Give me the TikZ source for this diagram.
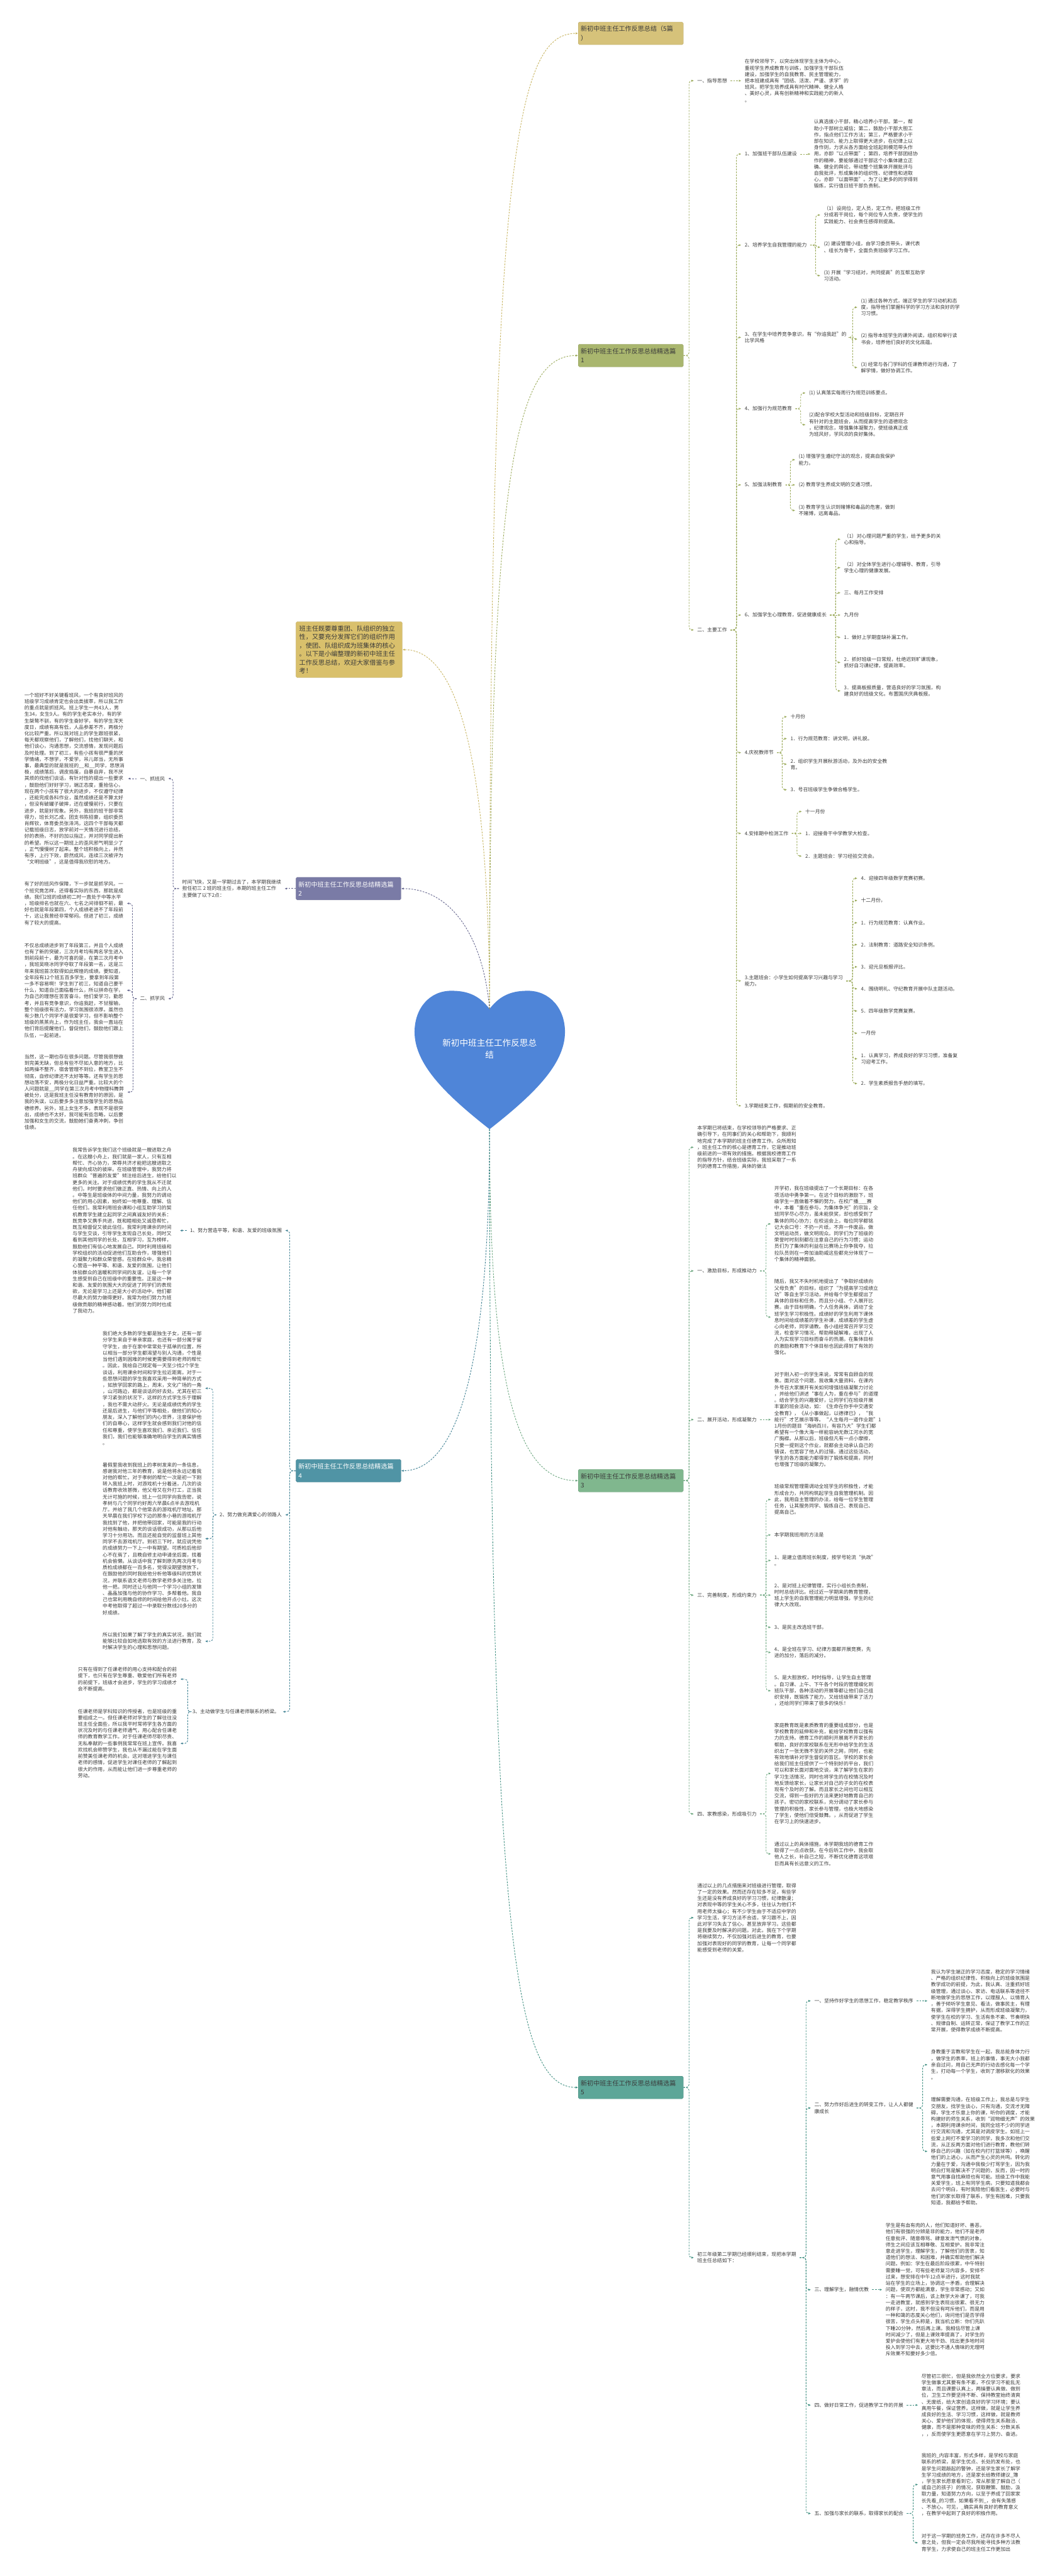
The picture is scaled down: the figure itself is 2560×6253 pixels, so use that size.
\documentclass[tikz,border=0pt]{standalone}
\usepackage{fontspec}
\setmainfont{Noto Sans CJK SC}
\usetikzlibrary{arrows.meta,positioning,calc}

\definecolor{ink}{HTML}{3A3A3A}
\definecolor{boxT}{HTML}{D6C27A}
\definecolor{boxN}{HTML}{D9C06C}
\definecolor{boxA}{HTML}{A9B66E}
\definecolor{boxC}{HTML}{80B78E}
\definecolor{boxE}{HTML}{5DA698}
\definecolor{boxB}{HTML}{7A7BA6}
\definecolor{boxD}{HTML}{5094A5}
\definecolor{heartblue}{HTML}{4F85D8}
\definecolor{lnT}{HTML}{C8B560}
\definecolor{lnA}{HTML}{9CAB5C}
\definecolor{lnC}{HTML}{6BA67E}
\definecolor{lnE}{HTML}{3F8F81}
\definecolor{lnB}{HTML}{66678F}
\definecolor{lnD}{HTML}{3F8193}

\tikzset{
  txt/.style={inner xsep=8pt,inner ysep=1pt,align=left,text=ink,font=\fontsize{12}{15.6}\selectfont},
  topic/.style={rounded corners=3pt,draw=#1!85!black,fill=#1,text width=243pt,inner xsep=6pt,inner ysep=6pt,
    align=left,minimum height=55pt,text=ink,font=\fontsize{15.4}{22}\selectfont},
  link/.style={draw=#1,line width=1.4pt,dash pattern=on 4pt off 3pt,-{Latex[length=6pt,width=5pt]},rounded corners=7pt},
  fork/.style={to path={-| ([xshift=#1]\tikztotarget) -- (\tikztotarget)}},
  fork/.default=-12pt
}

\begin{document}
\begin{tikzpicture}[x=1pt,y=-1pt]
  \useasboundingbox[fill=white] (0,0) rectangle (2560,6253);

  % centre heart
  \coordinate (notch) at (1188,2449);
  \coordinate (tip) at (1188,2741);
  \fill[heartblue] (notch) .. controls (1160,2412) and (1128,2405) .. (1095,2405)
    .. controls (1042,2405) and (1006,2448) .. (1006,2505)
    .. controls (1006,2585) and (1085,2660) .. (tip)
    .. controls (1291,2660) and (1371,2585) .. (1371,2505)
    .. controls (1371,2448) and (1334,2405) .. (1281,2405)
    .. controls (1248,2405) and (1216,2412) .. (notch) -- cycle;
  \node[align=center,text=white,font=\fontsize{20.8}{28}\selectfont] (hub) at (1188,2546) {新初中班主任工作反思总\\结};

  % main topics
  \node[topic=boxT,anchor=west] (t) at (1403,81) {新初中班主任工作反思总结（5篇\\）};
  \node[topic=boxA,anchor=west] (a) at (1403,863) {新初中班主任工作反思总结精选篇\\1};
  \node[topic=boxC,anchor=west] (c) at (1403,3594) {新初中班主任工作反思总结精选篇\\3};
  \node[topic=boxE,anchor=west] (e) at (1403,5067) {新初中班主任工作反思总结精选篇\\5};
  \node[topic=boxN,anchor=west,text width=242pt,inner xsep=8pt,inner ysep=9pt,font=\fontsize{15.5}{20.7}\selectfont] (note) at (718,1577)
    {班主任既要尊重团、队组织的独立\\性，又要充分发挥它们的组织作用\\，使团、队组织成为班集体的核心\\。以下是小编整理的新初中班主任\\工作反思总结，欢迎大家借鉴与参\\考！};
  \node[topic=boxB,anchor=west,text=white] (b) at (718,2157) {新初中班主任工作反思总结精选篇\\2};
  \node[topic=boxD,anchor=west,text=white] (d) at (718,3570) {新初中班主任工作反思总结精选篇\\4};

  \draw[link=lnT] (notch) .. controls (1188,400) and (1250,81) .. (t.west);
  \draw[link=lnA] (notch) .. controls (1188,1150) and (1250,863) .. (a.west);
  \draw[link=lnT] (notch) .. controls (1186,1800) and (1100,1577) .. (note.east);
  \draw[link=lnB] (notch) .. controls (1170,2250) and (1080,2157) .. (b.east);
  \draw[link=lnC] (tip) .. controls (1188,3350) and (1250,3594) .. (c.west);
  \draw[link=lnE] (tip) .. controls (1188,4700) and (1250,5067) .. (e.west);
  \draw[link=lnD] (tip) .. controls (1188,3350) and (1100,3570) .. (d.east);

  % ---- 篇1 ----
  \node[txt,anchor=west] (a1) at (1684,196) {一、指导思想};
  \node[txt,anchor=west] (a1p) at (1799,196) {在学校领导下，以突出体现学生主体为中心，\\重视学生养成教育与训练，加强学生干部队伍\\建设，加强学生的自我教育、民主管理能力，\\把本班建成具有“团结、活泼、严谨、求学”的\\班风，把学生培养成具有时代精神、健全人格\\、美好心灵，具有创新精神和实践能力的新人\\。};
  \node[txt,anchor=west] (a2) at (1684,1529) {二、主要工作};
  \node[txt,anchor=west] (a21) at (1799,374) {1、加强班干部队伍建设};
  \node[txt,anchor=west] (a21p) at (1967,374) {认真选拔小干部，精心培养小干部。第一，帮\\助小干部树立威信；第二，鼓励小干部大胆工\\作，指点他们工作方法；第三，严格要求小干\\部在知识、能力上取得更大进步，在纪律上以\\身作则，力求从各方面给全班起到模范带头作\\用，亦即“以点带面”；第四，培养干部团结协\\作的精神，要能够通过干部这个小集体建立正\\确、健全的舆论，带动整个班集体开展批评与\\自我批评，形成集体的组织性、纪律性和进取\\心，亦即“以面带面”。为了让更多的同学得到\\锻炼，实行值日班干部负责制。};
  \node[txt,anchor=west] (a22) at (1799,595) {2、培养学生自我管理的能力};
  \node[txt,anchor=west] (a221) at (1991,522) {（1）设岗位，定人员，定工作，把班级工作\\分成若干岗位，每个岗位专人负责，使学生的\\实践能力、社会责任感得到提高。};
  \node[txt,anchor=west] (a222) at (1991,600) {(2) 建设管理小组，由学习委员带头，课代表\\、组长为骨干，全面负责班级学习工作。};
  \node[txt,anchor=west] (a223) at (1991,669) {(3) 开展“学习结对，共同提高”的互帮互助学\\习活动。};
  \node[txt,anchor=west] (a23) at (1799,819) {3、在学生中培养竞争意识，有“你追我赶”的\\比学风格};
  \node[txt,anchor=west] (a231) at (2081,746) {(1) 通过各种方式，端正学生的学习动机和态\\度，指导他们掌握科学的学习方法和良好的学\\习习惯。};
  \node[txt,anchor=west] (a232) at (2081,823) {(2) 指导本班学生的课外阅读，组织和举行读\\书会，培养他们良好的文化底蕴。};
  \node[txt,anchor=west] (a233) at (2081,892) {(3) 经常与各门学科的任课教师进行沟通，了\\解学情，做好协调工作。};
  \node[txt,anchor=west] (a24) at (1799,992) {4、加强行为规范教育};
  \node[txt,anchor=west] (a241) at (1955,954) {(1) 认真落实每周行为规范训练要点。};
  \node[txt,anchor=west] (a242) at (1955,1031) {(2)配合学校大型活动和班级目标，定期召开\\有针对的主题班会，从而提高学生的道德观念\\，纪律观念，增强集体凝聚力，使班级真正成\\为班风好，学风浓的良好集体。};
  \node[txt,anchor=west] (a25) at (1799,1177) {5、加强法制教育};
  \node[txt,anchor=west] (a251) at (1930,1116) {(1) 增强学生遵纪守法的观念，提高自我保护\\能力。};
  \node[txt,anchor=west] (a252) at (1930,1177) {(2) 教育学生养成文明的交通习惯。};
  \node[txt,anchor=west] (a253) at (1930,1239) {(3) 教育学生认识到赌博和毒品的危害，做到\\不赌博，远离毒品。};
  \node[txt,anchor=west] (a26) at (1799,1493) {6、加强学生心理教育，促进健康成长};
  \node[txt,anchor=west] (a261) at (2040,1309) {（1）对心理问题严重的学生，给予更多的关\\心和指导。};
  \node[txt,anchor=west] (a262) at (2040,1378) {（2）对全体学生进行心理辅导、教育，引导\\学生心理的健康发展。};
  \node[txt,anchor=west] (a263) at (2040,1439) {三、每月工作安排};
  \node[txt,anchor=west] (a264) at (2040,1493) {九月份};
  \node[txt,anchor=west] (a265) at (2040,1547) {1．做好上学期查缺补漏工作。};
  \node[txt,anchor=west] (a266) at (2040,1608) {2．抓好班级一日常规，杜绝迟到旷课现象，\\抓好自习课纪律，提高效率。};
  \node[txt,anchor=west] (a267) at (2040,1677) {3．提高板报质量，营造良好的学习氛围，构\\建良好的班级文化。布置国庆庆典板报。};
  \node[txt,anchor=west] (a27) at (1799,1827) {4.庆祝教师节};
  \node[txt,anchor=west] (a271) at (1910,1740) {十月份};
  \node[txt,anchor=west] (a272) at (1910,1793) {1．行为规范教育：讲文明，讲礼貌。};
  \node[txt,anchor=west] (a273) at (1910,1855) {2．组织学生开展秋游活动，及外出的安全教\\育。};
  \node[txt,anchor=west] (a274) at (1910,1917) {3．号召班级学生争做合格学生。};
  \node[txt,anchor=west] (a28) at (1799,2023) {4.安排期中检测工作};
  \node[txt,anchor=west] (a281) at (1946,1970) {十一月份};
  \node[txt,anchor=west] (a282) at (1946,2023) {1．迎接骨干中学教学大检查。};
  \node[txt,anchor=west] (a283) at (1946,2078) {2．主题班会：学习经验交流会。};
  \node[txt,anchor=west] (a29) at (1799,2381) {3.主题班会：小学生如何提高学习兴趣与学习\\能力。};
  \node[txt,anchor=west] (a291) at (2081,2132) {4．迎接四年级数学竞赛初赛。};
  \node[txt,anchor=west] (a292) at (2081,2186) {十二月份，};
  \node[txt,anchor=west] (a293) at (2081,2240) {1．行为规范教育：认真作业。};
  \node[txt,anchor=west] (a294) at (2081,2293) {2．法制教育：道路安全知识条例。};
  \node[txt,anchor=west] (a295) at (2081,2347) {3．迎元旦板报评比。};
  \node[txt,anchor=west] (a296) at (2081,2400) {4．围绕明礼、守纪教育开展中队主题活动。};
  \node[txt,anchor=west] (a297) at (2081,2454) {5．四年级数学竞赛复赛。};
  \node[txt,anchor=west] (a298) at (2081,2508) {一月份};
  \node[txt,anchor=west] (a299) at (2081,2570) {1．认真学习，养成良好的学习习惯，准备复\\习迎考工作。};
  \node[txt,anchor=west] (a29a) at (2081,2630) {2．学生素质报告手册的填写。};
  \node[txt,anchor=west] (a2a) at (1799,2684) {3.学期结束工作，假期前的安全教育。};

  \draw[link=lnA] (a.east) to[fork] (a1.west);
  \draw[link=lnA] (a.east) to[fork] (a2.west);
  \draw[link=lnA] (a1.east) -- (a1p.west);
  \draw[link=lnA] (a2.east) to[fork] (a21.west);
  \draw[link=lnA] (a2.east) to[fork] (a22.west);
  \draw[link=lnA] (a2.east) to[fork] (a23.west);
  \draw[link=lnA] (a2.east) to[fork] (a24.west);
  \draw[link=lnA] (a2.east) to[fork] (a25.west);
  \draw[link=lnA] (a2.east) to[fork] (a26.west);
  \draw[link=lnA] (a2.east) to[fork] (a27.west);
  \draw[link=lnA] (a2.east) to[fork] (a28.west);
  \draw[link=lnA] (a2.east) to[fork] (a29.west);
  \draw[link=lnA] (a2.east) to[fork] (a2a.west);
  \draw[link=lnA] (a21.east) -- (a21p.west);
  \draw[link=lnA] (a22.east) to[fork] (a221.west);
  \draw[link=lnA] (a22.east) to[fork] (a222.west);
  \draw[link=lnA] (a22.east) to[fork] (a223.west);
  \draw[link=lnA] (a23.east) to[fork] (a231.west);
  \draw[link=lnA] (a23.east) to[fork] (a232.west);
  \draw[link=lnA] (a23.east) to[fork] (a233.west);
  \draw[link=lnA] (a24.east) to[fork] (a241.west);
  \draw[link=lnA] (a24.east) to[fork] (a242.west);
  \draw[link=lnA] (a25.east) to[fork] (a251.west);
  \draw[link=lnA] (a25.east) -- (a252.west);
  \draw[link=lnA] (a25.east) to[fork] (a253.west);
  \draw[link=lnA] (a26.east) to[fork] (a261.west);
  \draw[link=lnA] (a26.east) to[fork] (a262.west);
  \draw[link=lnA] (a26.east) to[fork] (a263.west);
  \draw[link=lnA] (a26.east) -- (a264.west);
  \draw[link=lnA] (a26.east) to[fork] (a265.west);
  \draw[link=lnA] (a26.east) to[fork] (a266.west);
  \draw[link=lnA] (a26.east) to[fork] (a267.west);
  \draw[link=lnA] (a27.east) to[fork] (a271.west);
  \draw[link=lnA] (a27.east) to[fork] (a272.west);
  \draw[link=lnA] (a27.east) to[fork] (a273.west);
  \draw[link=lnA] (a27.east) to[fork] (a274.west);
  \draw[link=lnA] (a28.east) to[fork] (a281.west);
  \draw[link=lnA] (a28.east) -- (a282.west);
  \draw[link=lnA] (a28.east) to[fork] (a283.west);
  \draw[link=lnA] (a29.east) to[fork] (a291.west);
  \draw[link=lnA] (a29.east) to[fork] (a292.west);
  \draw[link=lnA] (a29.east) to[fork] (a293.west);
  \draw[link=lnA] (a29.east) to[fork] (a294.west);
  \draw[link=lnA] (a29.east) to[fork] (a295.west);
  \draw[link=lnA] (a29.east) to[fork] (a296.west);
  \draw[link=lnA] (a29.east) to[fork] (a297.west);
  \draw[link=lnA] (a29.east) to[fork] (a298.west);
  \draw[link=lnA] (a29.east) to[fork] (a299.west);
  \draw[link=lnA] (a29.east) to[fork] (a29a.west);

  % ---- 篇3 ----
  \node[txt,anchor=west] (c1) at (1684,2785) {本学期已将结束，在学校领导的严格要求、正\\确引导下，在同事们的关心和帮助下，我顺利\\地完成了本学期的班主任德育工作。众所周知\\，班主任工作的核心是德育工作，它是推动班\\级前进的一项有效的措施。根据我校德育工作\\的指导方针，结合班级实际，我班采取了一系\\列的德育工作措施，具体的做法};
  \node[txt,anchor=west] (c2) at (1684,3085) {一、激励目标，形成推动力};
  \node[txt,anchor=west] (c21) at (1871,2971) {开学初，我在班级提出了一个长期目标：在各\\项活动中勇争第一。在这个目标的激励下，班\\级学生一直做着不懈的努力。在校广播\_\_\_赛\\中，本着“重在参与，为集体争光”的宗旨，全\\班同学尽心尽力，虽未能获奖，却也感受到了\\集体的同心协力；在校运会上，每位同学都铭\\记大会口号：不扔一片纸，不弃一件废品，做\\文明运动员，做文明观众。同学们为了班级的\\荣誉时时刻刻都在注意自己的行为习惯；运动\\员们为了集体的利益在比赛场上你争我夺，拉\\拉队员则在一旁加油助威这些都充分体现了一\\个集体的精神面貌。};
  \node[txt,anchor=west] (c22) at (1871,3197) {随后，我又不失时机地提出了“争取好成绩向\\父母负责”的目标，组织了“为提高学习成绩立\\功”等自主学习活动，并给每个学生都提出了\\具体的目标和任务，而且分小组、个人展开比\\赛。由于目标明确，个人任务具体，调动了全\\班学生学习积极性。成绩好的学生利用下课休\\息时间给成绩差的学生补课，成绩差的学生虚\\心向老师，同学请教。各小组经常召开学习交\\流，检查学习情况，帮助释疑解难，出现了人\\人为实现学习目标而奋斗的热潮。在集体目标\\的激励和教育下个体目标也因此得到了有效的\\强化。};
  \node[txt,anchor=west] (c3) at (1684,3446) {二、展开活动，形成凝聚力};
  \node[txt,anchor=west] (c31) at (1871,3446) {对于刚入初一的学生来说，常常有自顾自的现\\象。面对这个问题，我收集大量资料，在课内\\外号召大家展开有关如何增强班级凝聚力讨论\\，并给他们讲述“事在人为，重在参与”的道理\\。结合学生的兴趣爱好，让同学们在班级开展\\丰富的班会活动，如：《生命在你手中交通安\\全教育》，《从小事做起，以德律已》，“我\\能行”才艺展示等等。“人生每月一道作业题”1\\1月份的题目“海纳百川，有容乃大”学生们都\\希望有一个像大海一样能容纳无数江河水的宽\\广胸襟。从那以后，班级但凡有一点小摩擦，\\只要一提到这个作业，就都会主动承认自己的\\错误，也宽容了他人的过错。通过这些活动，\\学生的各方面能力都得到了锻炼和提高，同时\\也增强了班级的凝聚力。};
  \node[txt,anchor=west] (c4) at (1684,3872) {三、完善制度，形成约束力};
  \node[txt,anchor=west] (c41) at (1871,3640) {班级常规管理需调动全班学生的积极性，才能\\形成合力，共同构筑起学生自我管理机制。因\\此，我用自主管理的办法，给每一位学生管理\\任务，让其服务同学、锻炼自己、表现自己、\\提高自己。};
  \node[txt,anchor=west] (c42) at (1871,3726) {本学期我班用的方法是};
  \node[txt,anchor=west] (c43) at (1871,3788) {1、是建立值周班长制度，按学号轮流“执政”\\。};
  \node[txt,anchor=west] (c44) at (1871,3872) {2、是对班上纪律管理，实行小组长负责制，\\时时总结评比。经过近一学期来的教育管理，\\班上学生的自我管理能力明显增强，学生的纪\\律大大改观。};
  \node[txt,anchor=west] (c45) at (1871,3950) {3、是民主改选班干部。};
  \node[txt,anchor=west] (c46) at (1871,4011) {4、是全班在学习、纪律方面都开展竞赛，先\\进的加分，落后的减分。};
  \node[txt,anchor=west] (c47) at (1871,4104) {5、是大胆放权，时时指导，让学生自主管理\\。自习课、上午、下午各个时段的管理细化到\\班队干部，各种活动的开展等都让他们自己组\\织安排，既锻炼了能力，又给班级带来了活力\\，还给同学们带来了很多的快乐！};
  \node[txt,anchor=west] (c5) at (1684,4403) {四、家教感染，形成吸引力};
  \node[txt,anchor=west] (c51) at (1871,4305) {家庭教育既是素质教育的重要组成部分，也是\\学校教育的延伸和补充，能给学校教育以强有\\力的支持。德育工作的顺利开展离不开家长的\\帮助，良好的家校联系在无形中给学生的生活\\织出了一张无微不至的关怀之网，同时，也能\\有效地填补对学生督促的盲区。学校的家长会\\给我们班主任提供了一个特别好的平台，我们\\可以和家长面对面地交谈，来了解学生在家的\\学习生活情况，同时也将学生的在校情况及时\\地反馈给家长，让家长对自己的子女的在校表\\现有个及时的了解。而且家长之间也可以相互\\交流，得到一些好的方法来更好地教育自己的\\孩子。密切的家校联系，充分调动了家长参与\\管理的积极性，家长参与管理，也极大地感染\\了学生，使他们倍受鼓舞。，从而促进了学生\\在学习上的快速进步。};
  \node[txt,anchor=west] (c52) at (1871,4500) {通过以上的具体措施，本学期我班的德育工作\\取得了一点点收获。在今后听工作中，我会取\\他人之长，补自己之短，不断优化德育这项艰\\巨而具有长远意义的工作。};

  \draw[link=lnC] (c.east) to[fork] (c1.west);
  \draw[link=lnC] (c.east) to[fork] (c2.west);
  \draw[link=lnC] (c.east) to[fork] (c3.west);
  \draw[link=lnC] (c.east) to[fork] (c4.west);
  \draw[link=lnC] (c.east) to[fork] (c5.west);
  \draw[link=lnC] (c2.east) to[fork] (c21.west);
  \draw[link=lnC] (c2.east) to[fork] (c22.west);
  \draw[link=lnC] (c3.east) -- (c31.west);
  \draw[link=lnC] (c4.east) to[fork] (c41.west);
  \draw[link=lnC] (c4.east) to[fork] (c42.west);
  \draw[link=lnC] (c4.east) to[fork] (c43.west);
  \draw[link=lnC] (c4.east) -- (c44.west);
  \draw[link=lnC] (c4.east) to[fork] (c45.west);
  \draw[link=lnC] (c4.east) to[fork] (c46.west);
  \draw[link=lnC] (c4.east) to[fork] (c47.west);
  \draw[link=lnC] (c5.east) to[fork] (c51.west);
  \draw[link=lnC] (c5.east) to[fork] (c52.west);

  % ---- 篇5 ----
  \node[txt,anchor=west] (e1) at (1684,4655) {通过以上的几点措施来对班级进行管理，取得\\了一定的效果。然而还存在较多不足，有些学\\生还是没有养成良好的学习习惯，纪律散漫；\\对表现中等的学生关心不多，往往认为他们不\\用老师太操心；有不少学生由于不适应中学的\\学习生活，学习方法不合适，学习跟不上，因\\此对学习失去了信心，甚至放弃学习。这些都\\是我要及时解决的问题。对此，我在下个学期\\将继续努力，不仅加强对后进生的教育，也要\\加强对表现好的同学的教育，让每一个同学都\\能感受到老师的关爱。};
  \node[txt,anchor=west] (e2) at (1684,5480) {初三年级第二学期已经顺利结束，现把本学期\\班主任总结如下：};
  \node[txt,anchor=west] (e21) at (1968,4857) {一、坚持作好学生的思想工作，稳定教学秩序};
  \node[txt,anchor=west] (e211) at (2251,4857) {我认为学生端正的学习态度，稳定的学习情绪\\、严格的组织纪律性、积极向上的班级氛围是\\教学成功的前提，为此，我认真、注重抓好班\\级管理，通过谈心、家访、电话联系等途径不\\断地做学生的思想工作，以理服人、以情育人\\，善于倾听学生意见、看法，做事民主，有理\\有据，深得学生拥护，从而形成班级凝聚力，\\使学生在校的学习、生活有条不紊、节奏明快\\、规律自制、运转正常，保证了教学工作的正\\常开展，使得教学成绩不断提高。};
  \node[txt,anchor=west] (e22) at (1968,5117) {二、努力作好后进生的转变工作，让人人都健\\康成长};
  \node[txt,anchor=west] (e221) at (2251,5012) {身教重于言教和学生在一起，我总能身体力行\\，做学生的表率，班上的事情，事无大小我都\\亲自过问，用自己无声的行动去感化每一个学\\生，打动每一个学生，收到了潜移默化的效果\\。};
  \node[txt,anchor=west] (e222) at (2251,5222) {理解需要沟通，在班级工作上，我总是与学生\\交朋友，找学生谈心，只有沟通，交流才无障\\碍，学生才乐意上你的课，听你的调度，才能\\构建好的师生关系，收到“润物细无声”的效果\\，本期利用课余时间，我同全班不少的同学进\\行交流和沟通，尤其是对调皮学生。如班上一\\些爱上网打不爱学习的同学，我多次和他们交\\流，从正反两方面对他们进行教育，教他们转\\移自己的兴趣（如在校内打打篮球等），唤醒\\他们的上进心，从而产生心灵的共鸣。转化的\\力量在于爱，沟通中我极少打骂学生，因为我\\明白打骂是解决不了问题的，反而，因一时的\\意气用事自找麻烦也有可能。班级工作中我能\\关爱学生，班上有同学生病，只要知道我都会\\去问个明白，有时我陪他们看医生，必要时与\\他们的家长取得了联系，学生有困难，只要我\\知道，我都给予帮助。};
  \node[txt,anchor=west] (e23) at (1968,5558) {三、理解学生，融情优教};
  \node[txt,anchor=west] (e231) at (2141,5558) {学生是有血有肉的人，他们知道好坏、善恶，\\他们有很强的分辨是非的能力，他们不是老师\\任意批评、随意辱骂、肆意发泄气愤的对象，\\师生之间应该互相尊敬、互相爱护。我非常注\\意走进学生，理解学生，了解他们的苦衷，知\\道他们的想法、和困难，并确实帮助他们解决\\问题。例如：学生在最后阶段很累，中午特别\\需要睡一觉，可有些老师复习内容多，安排不\\过来，想安排在中午12点半进行，这时我就\\站在学生的立场上，协调这一矛盾，合理解决\\问题，使双方都能满意，学生非常感动；又如\\：有一午两节课后，该上数学大补课了，可我\\一走进教室，就感到学生表现出很累、很无力\\的样子，这时，我不但没有呵斥他们，而是用\\一种和蔼的态度关心他们，询问他们是否学得\\很苦，学生点头称是，我当机立断：你们先趴\\下睡20分钟，然后再上课。我相信尽管上课\\时间减少了，但是上课效率提高了，对学生的\\爱护会使他们有更大地干劲、找出更多地时间\\投入到学习中去，这要比不通人情味的无理呵\\斥效果不知要好多少倍。};
  \node[txt,anchor=west] (e24) at (1968,5838) {四、做好日常工作，促进教学工作的开展};
  \node[txt,anchor=west] (e241) at (2228,5838) {尽管初三很忙，但是我依然全方位要求，要求\\学生做事尤其要有条不紊，不仅学习不能乱无\\章法，而且课要认真上，两操要认真做、做到\\位，卫生工作要坚持不断、保持教室始终清爽\\、无废纸，给大家创造良好的学习环境；要认\\真用午餐，保证营养。这样做，就是让学生养\\成良好的生活、学习习惯，这样做，就是教师\\关心、爱护他们的体现，使得师生关系融洽、\\健康，而不是那种变味的师生关系：分数关系\\，，反而使学生更愿意在学习上努力、奋进。};
  \node[txt,anchor=west] (e25) at (1968,6101) {五、加强与家长的联系，取得家长的配合};
  \node[txt,anchor=west] (e251) at (2228,6031) {我班的\_内容丰富，形式多样，是学校与家庭\\联系的桥梁，是学生优点、长处的发布处，也\\是学生问题敲起的警钟，还是学生家长了解学\\生学习成绩的地方，还是家长给教师建议\_簿\\，学生家长愿意看到它，常从那里了解自己（\\或自己的孩子）的情况，获取鞭策、鼓励，汲\\取力量，知道努力方向，以至于养成了回家家\\长先看\_的习惯，如果看不到\_，会有失落感\\、不放心。可见，\_确实具有良好的教育意义\\，在教学中起到了良好的积极作用。};
  \node[txt,anchor=west] (e252) at (2228,6172) {对于这一学期的班务工作，还存在许多不尽人\\意之处，但我一定会尽我所能寻找多种方法教\\育学生，力求使自己的班主任工作更加出};

  \draw[link=lnE] (e.east) to[fork] (e1.west);
  \draw[link=lnE] (e.east) to[fork] (e2.west);
  \draw[link=lnE] (e2.east) to[fork] (e21.west);
  \draw[link=lnE] (e2.east) to[fork] (e22.west);
  \draw[link=lnE] (e2.east) to[fork] (e23.west);
  \draw[link=lnE] (e2.east) to[fork] (e24.west);
  \draw[link=lnE] (e2.east) to[fork] (e25.west);
  \draw[link=lnE] (e21.east) -- (e211.west);
  \draw[link=lnE] (e22.east) to[fork] (e221.west);
  \draw[link=lnE] (e22.east) to[fork] (e222.west);
  \draw[link=lnE] (e23.east) -- (e231.west);
  \draw[link=lnE] (e24.east) -- (e241.west);
  \draw[link=lnE] (e25.east) to[fork] (e251.west);
  \draw[link=lnE] (e25.east) to[fork] (e252.west);

  % ---- 篇2 ----
  \node[txt,anchor=west] (b1) at (434,2157) {时间飞快，又是一学期过去了，本学期我继续\\担任初三 2 班的班主任，本期的班主任工作\\主要做了以下2点：};
  \node[txt,anchor=east] (b11) at (408,1890) {一、抓班风};
  \node[txt,anchor=west] (b111) at (51,1890) {一个班好不好关键看班风，一个有良好班风的\\班级学习成绩肯定也会出类拔萃，所以我工作\\的重点就是抓班风。班上学生一共43人，男\\生34，女生9人。有的学生老实本分，有的学\\生桀骜不驯，有的学生奋好学，有的学生浑天\\度日，成绩有高有低，人品参差不齐，两极分\\化比较严重。所以我对班上的学生跟班很紧，\\每天都观察他们，了解他们，找他们聊天，和\\他们谈心，沟通思想，交流感情，发现问题后\\及时处理。到了初三，有些小孩有很严重的厌\\学情绪，不想学，不爱学，吊儿郎当，无所事\\事，最典型的就是我班的\_\_和\_\_同学，思想消\\极，成绩落后，调皮捣蛋，自暴自弃，我不厌\\其烦的找他们谈话，有针对性的提出一些要求\\，鼓励他们好好学习，端正态度，重拾信心，\\现在两个小孩有了很大的进步，不仅遵守纪律\\，还能完成各科作业，虽然成绩还是不算太好\\，但没有破罐子破摔，还在缓慢前行，只要在\\进步，就是好现象。另外，我班的班干部非常\\得力，班长刘乙成，团支书陈招豪，组织委员\\肖辉钦，体育委员张泽鸿，这四个干部每天都\\记载班级日志，放学前对一天情况进行总结，\\好的表扬，不好的加以指正，并对同学提出新\\的希望。所以这一期班上的歪风邪气明显少了\\，正气慢慢树了起来。整个班积极向上，井然\\有序，上行下效，蔚然成风，连续三次被评为\\“文明班级”，这是值得我欣慰的地方。};
  \node[txt,anchor=east] (b12) at (408,2424) {二、抓学风};
  \node[txt,anchor=west] (b121) at (51,2193) {有了好的班风作保障，下一步就是抓学风。一\\个班究竟怎样，还得看实际的东西，那就是成\\绩。我们2班的成绩初二时一直处于中等水平\\，班级排名也就在六、七名之间徘徊不前，最\\好也就是年段第四，个人成绩老进不了年段前\\十，这让我曾经非常郁闷。但进了初三，成绩\\有了较大的提高。};
  \node[txt,anchor=west] (b122) at (51,2404) {不仅总成绩进步到了年段第三，并且个人成绩\\也有了新的突破，三次月考均有两名学生进入\\到前段前十，最为可喜的是，在第三次月考中\\，我班吴晓冰同学夺取了年段第一名，这是三\\年来我班首次取得如此辉煌的成绩。要知道，\\全年段有12个班五百多学生，要拿到年段第\\一多不容易啊！学生到了初三，知道自己要干\\什么，知道自己面临着什么，所以拼命在学，\\为自己的理想在苦苦奋斗。他们爱学习，勤思\\考，并且有竞争意识，你追我赶，不甘服输，\\整个班级很有活力，学习氛围很浓厚。虽然也\\有少数几个同学不是很爱学习，但不影响整个\\班级的蒸蒸向上，作为班主任，我会一直站在\\他们背后提醒他们，督促他们，鼓励他们跟上\\队伍，一起前进。};
  \node[txt,anchor=west] (b123) at (51,2651) {当然，这一期也存在很多问题。尽管我很想做\\到完美无缺，但总有些不尽如人意的地方，比\\如两操不整齐，宿舍管理不到位，教室卫生不\\彻底，自修纪律还不太好等等。还有学生的思\\想动荡不安，两极分化日益严重。比较大的个\\人问题就是\_\_同学在第三次月考中物理科舞弊\\被处分，这是我班主任没有教育好的原因，是\\我的失误，以后要多多注意加强学生的思想品\\德修养。另外，班上女生不多，表现不是很突\\出，成绩也不太好，我可能有些忽略，以后要\\加强和女生的交流，鼓励她们奋勇冲刺，争创\\佳绩。};

  \draw[link=lnB] (b.west) -- (b1.east);
  \draw[link=lnB] (b1.west) to[fork=12pt] (b11.east);
  \draw[link=lnB] (b1.west) to[fork=12pt] (b12.east);
  \draw[link=lnB] (b11.west) -- (b111.east);
  \draw[link=lnB] (b12.west) to[fork=14pt] (b121.east);
  \draw[link=lnB] (b12.west) to[fork=14pt] (b122.east);
  \draw[link=lnB] (b12.west) to[fork=14pt] (b123.east);

  % ---- 篇4 ----
  \node[txt,anchor=east] (d1) at (692,2987) {1、努力营造平等，和谐、友爱的班级氛围};
  \node[txt,anchor=west] (d11) at (168,2987) {我常告诉学生我们这个班级就是一艘进取之舟\\。在这艘小舟上，我们就是一家人，只有互相\\帮忙、齐心协力，荣辱共济才能把这艘进取之\\舟驶向成功的彼岸。在班级管理中，我努力将\\班群众“普遍的友爱”倾注给后进生，给他们以\\更多的关注。对于成绩优秀的学生我从不迁就\\他们，时时要求他们做正直、热情、向上的人\\。中等生是班级体的中间力量，我努力的调动\\他们的用心因素，始终如一地尊重、理解、信\\任他们。我常利用班会课和小组互助学习的契\\机教育学生建立起同学之间真诚友好的关系：\\既竞争又携手共进，既和睦相处又诚恳帮忙，\\既互相督促又彼此信任。我常利用课余的时间\\与学生交谈，引导学生发现自己长处，同时又\\看到其他同学的长处，互相学习，互为榜样，\\鼓励他们有信心地发展自己。同时利用班级和\\学校组织的活动促进他们互助合作，增强他们\\的凝聚力和群众荣誉感。在班群众中，我总精\\心营造一种平等、和谐、友爱的氛围，让他们\\体验群众的温暖和同学间的友谊，让每一个学\\生感受到自己在班级中的重要性。正是这一种\\和谐、友爱的氛围大大的促进了同学们的表现\\欲，无论是学习上还是大小的活动中，他们都\\尽最大的努力做得更好。我常为他们努力为班\\级做贡献的精神感动着。他们的努力同时也成\\了我动力。};
  \node[txt,anchor=east] (d2) at (692,3677) {2、努力做充满爱心的领路人};
  \node[txt,anchor=west] (d21) at (241,3370) {我们绝大多数的学生都是独生子女，还有一部\\分学生来自于单亲家庭，也还有一部分属于留\\守学生，由于在家中常常处于孤单的位置，所\\以相当一部分学生都渴望与别人沟通，个性是\\当他们遇到困难的时候更需要得到老师的帮忙\\。因此，我给自己规定每一天至少找2个学生\\谈话，利用课余时间和学生拉近距离。对于一\\些思想问题的学生我喜欢采用一种简单的方式\\，如放学回家的路上，周末，文化广场的一角\\，山河路边，都是谈话的好去处。尤其在初三\\学习紧张的状况下，这样的方式学生乐于理解\\，我也不需大动肝火。无论是成绩优秀的学生\\还是后进生，与他们平等相处，做他们的知心\\朋友，深入了解他们的内心世界，注意保护他\\们的自尊心，这样学生就会感到我们对他的信\\任和尊重，使学生喜欢我们、亲近我们、信任\\我们，我们也能够准确地明白学生的真实情感\\。};
  \node[txt,anchor=west] (d22) at (241,3735) {暑假里我收到我班上的孝树发来的一条信息，\\感谢我对他三年的教育，说是他将永远记着我\\对他的帮忙。对于孝树的帮忙一次是初一下刚\\转入我班上时，对游戏机十分着迷，几次的谈\\话教育收效甚微，他父母又在外打工，正当我\\无计可施的时候，班上一位同学向我告密，说\\孝树与几个同学约好周六早晨6点半去游戏机\\厅。并给了我几个他常去的游戏机厅地址。那\\天早晨在我们学校下边的那条小巷的游戏机厅\\我找到了他，并把他带回家，可能是我的行动\\对他有触动，那天的谈话很成功，从那以后他\\学习十分用功。而且还能自觉的监督班上其他\\同学不去游戏机厅。到初三下时，就应说凭他\\的成绩努力一下上一中有期望。可质检后他却\\心不在焉了，且晚自修主动申请坐后面，找着\\机会偷懒。从谈话中我了解到原先两次月考与\\质检成绩都在一百多名，觉得没期望想放下。\\在鼓励他的同时我给他分析他等级科的优势状\\况，并联系语文老师与数学老师多关注他，拉\\他一把。同时还让与他同一个学习小组的发锦\\、晶晶加强与他的协作学习、多帮着他。我自\\己也常利用晚自修的时间给他开点小灶。这次\\中考他取得了超过一中录取分数线20多分的\\好成绩。};
  \node[txt,anchor=west] (d23) at (241,3984) {所以我们如果了解了学生的真实状况，我们就\\能够比较自如地选取有效的方法进行教育，及\\时解决学生的心理和思想问题。};
  \node[txt,anchor=east] (d3) at (686,4155) {3、主动做学生与任课老师联系的桥梁。};
  \node[txt,anchor=west] (d31) at (181,4076) {只有在得到了任课老师的用心支持和配合的前\\提下，也只有在学生尊重、敬爱他们所有老师\\的前提下，班级才会进步，学生的学习成绩才\\会不断提高。};
  \node[txt,anchor=west] (d32) at (181,4232) {任课老师是学科知识的传授者，也是班级的重\\要组成之一。但任课老师对学生的了解往往没\\班主任全面些，所以我平时常将学生各方面的\\状况及时的与任课老师通气，用心配合任课老\\师的教育教学工作。对于任课老师尽职尽责、\\无私奉献的一些事例我常常在班上宣传。我喜\\欢找机会称赞学生，我也从不漏过能在学生面\\前赞美任课老师的机会。这对增进学生与课任\\老师的感情，促进学生对课任老师的了解起到\\很大的作用，从而能让他们进一步尊重老师的\\劳动。};

  \draw[link=lnD] (d.west) to[fork=11pt] (d1.east);
  \draw[link=lnD] (d.west) to[fork=11pt] (d2.east);
  \draw[link=lnD] (d.west) to[fork=17pt] (d3.east);
  \draw[link=lnD] (d1.west) -- (d11.east);
  \draw[link=lnD] (d2.west) to[fork=19pt] (d21.east);
  \draw[link=lnD] (d2.west) to[fork=19pt] (d22.east);
  \draw[link=lnD] (d2.west) to[fork=19pt] (d23.east);
  \draw[link=lnD] (d3.west) to[fork=18pt] (d31.east);
  \draw[link=lnD] (d3.west) to[fork=18pt] (d32.east);
\end{tikzpicture}
\end{document}
